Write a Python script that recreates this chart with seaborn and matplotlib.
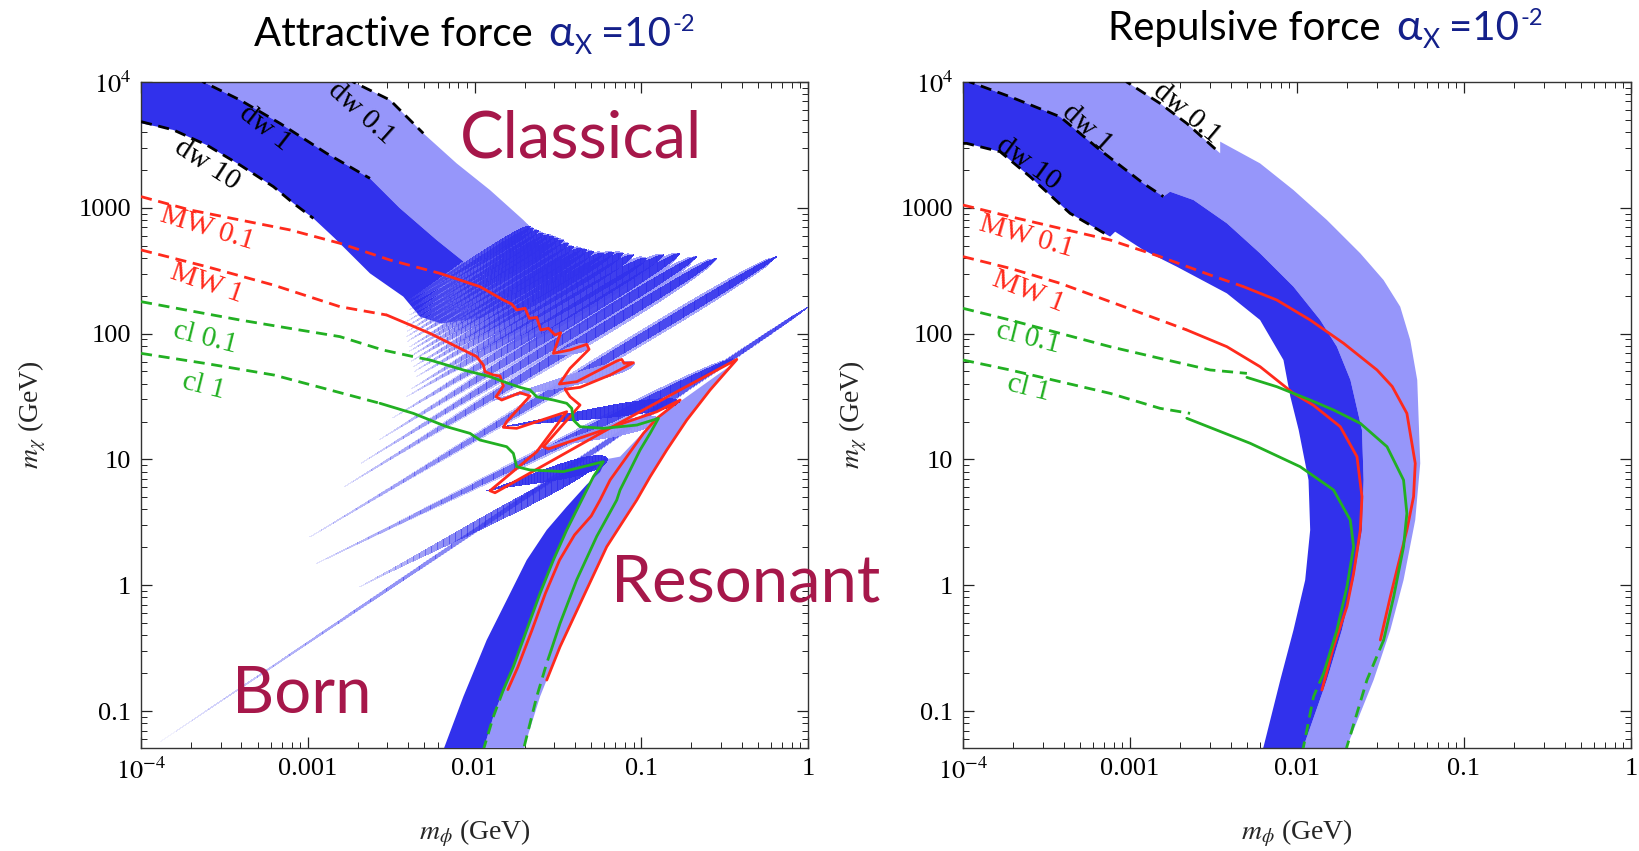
import numpy as np
import pandas as pd
import matplotlib
matplotlib.use("Agg")
import matplotlib.pyplot as plt
import matplotlib.colors as mcolors
from matplotlib.collections import PolyCollection
from matplotlib.ticker import NullFormatter
import seaborn as sns

sns.set_theme(style="ticks")
plt.rcParams['font.family'] = ['Liberation Serif', 'DejaVu Serif']
plt.rcParams['mathtext.fontset'] = 'stix'

W, H = 1639, 851
DARK = '#3131ec'
LIGHT = '#9696fa'
RED = '#ff2a1c'
GREEN = '#22b022'
NAVY = '#14208a'
CRIMSON = '#a6174a'

# all points are (log10 m_phi, log10 m_X) in GeV

# ---------------- attractive force ----------------
attr_dark_upper = [(-4.05, 4.05), (-3.66, 4.05), (-3.626, 4.0), (-3.406, 3.857), (-3.166, 3.671),
                   (-2.887, 3.433), (-2.627, 3.234), (-2.45, 3.00), (-2.227, 2.744), (-2.027, 2.532),
                   (-1.80, 2.27)]
attr_dark_lower = [(-4.05, 3.685), (-3.806, 3.619), (-3.606, 3.499), (-3.406, 3.340), (-3.206, 3.168),
                   (-3.086, 3.036), (-2.966, 2.916), (-2.84, 2.76), (-2.627, 2.479), (-2.427, 2.294),
                   (-2.327, 2.135), (-2.20, 2.08), (-1.95, 2.13)]
attr_light_upper = [(-3.66, 4.05), (-2.76, 4.05), (-2.727, 4.0), (-2.507, 3.857), (-2.307, 3.592),
                    (-2.107, 3.353), (-1.907, 3.141), (-1.707, 2.903), (-1.667, 2.850), (-1.50, 2.70),
                    (-1.45, 2.60), (-1.62, 2.45), (-1.80, 2.27)]

# resonance stripes: tail (lx, ly), tip (lx, ly), half width in decades
attr_stripes = [(-3.886, -1.246, 0.0, 2.21, 0.016),
                (-2.95, 0.17, -0.45, 1.80, 0.03),
                (-2.987, 0.383, -0.188, 2.612, 0.035),
                (-2.68, 0.97, -0.667, 2.612, 0.04),
                (-2.783, 0.781, -0.548, 2.598, 0.04),
                (-2.573, 1.154, -0.768, 2.638, 0.045),
                (-2.49, 1.33, -0.867, 2.625, 0.045),
                (-2.407, 1.499, -0.968, 2.598, 0.05),
                (-2.38, 1.56, -1.047, 2.625, 0.045),
                (-2.347, 1.658, -1.108, 2.638, 0.05),
                (-2.36, 1.70, -1.167, 2.643, 0.045),
                (-2.367, 1.737, -1.227, 2.638, 0.045),
                (-2.38, 1.78, -1.287, 2.651, 0.045),
                (-2.387, 1.817, -1.327, 2.665, 0.045),
                (-2.39, 1.86, -1.357, 2.678, 0.04),
                (-2.387, 1.896, -1.407, 2.691, 0.04),
                (-2.40, 1.94, -1.437, 2.717, 0.04),
                (-2.407, 1.976, -1.467, 2.744, 0.04),
                (-2.40, 2.02, -1.497, 2.757, 0.04),
                (-2.407, 2.055, -1.527, 2.771, 0.04),
                (-2.40, 2.10, -1.557, 2.784, 0.035),
                (-2.387, 2.148, -1.587, 2.797, 0.035),
                (-2.39, 2.19, -1.617, 2.818, 0.035),
                (-2.387, 2.241, -1.647, 2.837, 0.035),
                (-2.39, 2.27, -1.667, 2.850, 0.035)]
attr_wedges_dark = [(-2.687, -0.012, -1.25, 0.98, 0.055),
                    (-1.93, 0.75, -1.20, 1.00, 0.065),
                    (-1.83, 1.26, -0.77, 1.46, 0.05)]
attr_wedges_light = [(-1.60, 1.09, -0.90, 1.32, 0.055),
                     (-1.89, 1.47, -1.04, 1.76, 0.05),
                     (-1.54, 1.83, -1.32, 1.90, 0.035)]

attr_res_left = [(-2.20, -1.40), (-2.187, -1.310), (-2.067, -0.886), (-1.927, -0.436), (-1.80, -0.10),
                 (-1.687, 0.200), (-1.567, 0.439), (-1.447, 0.624), (-1.327, 0.800), (-1.247, 0.900),
                 (-1.207, 1.009)]
attr_res_inner = [(-1.237, 0.995), (-1.287, 0.863), (-1.367, 0.651), (-1.447, 0.439), (-1.527, 0.200),
                  (-1.607, -0.065), (-1.687, -0.356), (-1.767, -0.648), (-1.827, -0.833), (-1.887, -1.045),
                  (-1.947, -1.310), (-1.96, -1.40)]
attr_res_top = [(-1.237, 0.995), (-1.127, 1.022), (-0.908, 1.326), (-0.768, 1.459), (-0.418, 1.790)]
attr_res_outer = [(-0.418, 1.790), (-0.587, 1.552), (-0.727, 1.313), (-0.847, 1.075), (-0.947, 0.862),
                  (-1.047, 0.651), (-1.207, 0.306), (-1.347, -0.091), (-1.487, -0.489), (-1.607, -0.886),
                  (-1.707, -1.310), (-1.72, -1.40)]

attr_dw01 = [(-2.76, 4.05), (-2.727, 4.0), (-2.507, 3.857), (-2.307, 3.592)]
attr_dw1 = [(-3.66, 4.05), (-3.626, 4.0), (-3.406, 3.857), (-3.166, 3.671), (-2.887, 3.433), (-2.627, 3.234)]
attr_dw10 = [(-4.0, 3.685), (-3.806, 3.619), (-3.606, 3.499), (-3.406, 3.340), (-3.206, 3.168),
             (-3.086, 3.036), (-2.966, 2.916)]

attr_mw01_dash = [(-4.0, 3.089), (-3.706, 2.983), (-3.406, 2.903), (-3.106, 2.824), (-2.807, 2.718),
                  (-2.507, 2.585), (-2.207, 2.479)]
attr_mw01_solid = [(-2.207, 2.479), (-1.967, 2.373), (-1.827, 2.267), (-1.777, 2.235), (-1.747, 2.188),
                   (-1.697, 2.201), (-1.671, 2.121), (-1.627, 2.129), (-1.603, 2.029), (-1.557, 2.042),
                   (-1.517, 1.989), (-1.483, 2.007), (-1.527, 1.843), (-1.427, 1.870), (-1.327, 1.915),
                   (-1.313, 1.875), (-1.427, 1.724), (-1.491, 1.599), (-1.387, 1.618), (-1.147, 1.782),
                   (-1.117, 1.795), (-1.103, 1.764), (-1.047, 1.769), (-1.187, 1.671), (-1.367, 1.573),
                   (-1.457, 1.557), (-1.427, 1.498), (-1.367, 1.432), (-1.427, 1.340), (-1.587, 1.101),
                   (-1.557, 1.083), (-1.227, 1.234), (-0.907, 1.379), (-0.767, 1.472), (-0.907, 1.326),
                   (-0.987, 1.207), (-1.087, 1.021), (-1.187, 0.836), (-1.247, 0.677), (-1.30, 0.55),
                   (-1.40, 0.40), (-1.49, 0.20), (-1.575, -0.065), (-1.655, -0.356), (-1.74, -0.65),
                   (-1.80, -0.83)]
attr_mw1_dash = [(-4.0, 2.665), (-3.606, 2.532), (-3.206, 2.386), (-2.807, 2.214), (-2.527, 2.148)]
attr_mw1_solid = [(-2.527, 2.148), (-2.267, 2.002), (-2.107, 1.896), (-2.027, 1.843), (-1.987, 1.817),
                  (-1.947, 1.750), (-1.937, 1.697), (-1.887, 1.671), (-1.847, 1.663), (-1.827, 1.583),
                  (-1.871, 1.499), (-1.837, 1.472), (-1.727, 1.530), (-1.667, 1.504), (-1.707, 1.446),
                  (-1.807, 1.300), (-1.827, 1.255), (-1.747, 1.247), (-1.447, 1.379), (-1.627, 1.061),
                  (-1.907, 0.751), (-1.877, 0.735), (-1.227, 1.220), (-0.787, 1.538), (-0.427, 1.795),
                  (-0.587, 1.552), (-0.727, 1.313), (-0.847, 1.075), (-0.947, 0.862), (-1.027, 0.677),
                  (-1.207, 0.306), (-1.347, -0.091), (-1.487, -0.489), (-1.567, -0.754)]
attr_cl01_dash = [(-4.0, 2.254), (-3.7, 2.18), (-3.406, 2.108), (-3.1, 2.04), (-2.807, 1.976),
                  (-2.55, 1.87), (-2.367, 1.817), (-2.267, 1.790)]
attr_cl01_solid = [(-2.267, 1.790), (-2.067, 1.711), (-1.907, 1.658), (-1.827, 1.618), (-1.727, 1.573),
                   (-1.667, 1.552), (-1.627, 1.498), (-1.527, 1.472), (-1.447, 1.446), (-1.417, 1.406),
                   (-1.407, 1.313), (-1.367, 1.260), (-1.227, 1.247), (-1.027, 1.273), (-0.897, 1.326),
                   (-0.947, 1.207), (-1.007, 1.075), (-1.067, 0.915), (-1.127, 0.757), (-1.147, 0.677),
                   (-1.267, 0.388), (-1.387, 0.043), (-1.487, -0.303), (-1.54, -0.515)]
attr_cl01_tail = [(-1.54, -0.515), (-1.567, -0.621), (-1.627, -0.886), (-1.707, -1.31), (-1.72, -1.40)]
attr_cl1_dash = [(-4.0, 1.843), (-3.6, 1.76), (-3.2, 1.67), (-2.867, 1.552), (-2.567, 1.446)]
attr_cl1_solid = [(-2.567, 1.446), (-2.367, 1.366), (-2.167, 1.260), (-2.027, 1.207), (-1.967, 1.154),
                  (-1.807, 1.101), (-1.767, 1.048), (-1.747, 0.942), (-1.667, 0.916), (-1.467, 0.903),
                  (-1.227, 0.982), (-1.287, 0.863), (-1.367, 0.651), (-1.447, 0.439), (-1.527, 0.200),
                  (-1.607, -0.065), (-1.687, -0.356), (-1.767, -0.648), (-1.827, -0.833)]
attr_cl1_tail = [(-1.827, -0.833), (-1.887, -1.045), (-1.947, -1.310), (-1.96, -1.40)]

# ---------------- repulsive force ----------------
rep_dark_upper = [(-4.05, 4.05), (-3.96, 4.05), (-3.958, 4.0), (-3.718, 3.883), (-3.419, 3.724),
                  (-3.179, 3.459), (-2.920, 3.194), (-2.800, 3.089), (-2.760, 3.128), (-2.620, 3.062),
                  (-2.420, 2.877), (-2.221, 2.638), (-2.021, 2.373), (-1.861, 2.108), (-1.761, 1.896),
                  (-1.68, 1.631), (-1.611, 1.234), (-1.601, 0.836), (-1.611, 0.439), (-1.661, 0.041),
                  (-1.731, -0.356), (-1.821, -0.753), (-1.961, -1.283), (-1.99, -1.40)]
rep_dark_lower = [(-4.05, 3.512), (-3.978, 3.512), (-3.778, 3.446), (-3.599, 3.248), (-3.359, 2.956),
                  (-3.119, 2.771), (-3.089, 2.810), (-2.920, 2.665), (-2.720, 2.532), (-2.420, 2.320),
                  (-2.221, 2.108), (-2.081, 1.790), (-2.04, 1.50), (-1.99, 1.234), (-1.931, 0.836),
                  (-1.921, 0.439), (-1.951, 0.041), (-2.021, -0.356), (-2.100, -0.753), (-2.200, -1.283),
                  (-2.23, -1.40)]
rep_light_outer = [(-3.96, 4.05), (-3.03, 4.05), (-3.019, 4.0), (-2.820, 3.830), (-2.660, 3.671),
                   (-2.460, 3.433), (-2.460, 3.526), (-2.221, 3.353), (-2.021, 3.141), (-1.821, 2.903),
                   (-1.621, 2.638), (-1.482, 2.426), (-1.382, 2.214), (-1.322, 1.949), (-1.28, 1.631),
                   (-1.262, 0.969), (-1.292, 0.518), (-1.362, 0.041), (-1.441, -0.356), (-1.541, -0.753),
                   (-1.701, -1.283), (-1.73, -1.40)]

rep_dw01 = [(-3.03, 4.05), (-3.019, 4.0), (-2.820, 3.830), (-2.660, 3.671), (-2.460, 3.433)]
rep_dw1 = [(-3.96, 4.05), (-3.958, 4.0), (-3.718, 3.883), (-3.419, 3.724), (-3.179, 3.459),
           (-2.920, 3.194), (-2.800, 3.089)]
rep_dw10 = [(-4.0, 3.512), (-3.978, 3.512), (-3.778, 3.446), (-3.599, 3.248), (-3.359, 2.956),
            (-3.119, 2.771)]

rep_mw01_dash = [(-4.0, 3.022), (-3.718, 2.930), (-3.419, 2.837), (-3.119, 2.744), (-2.820, 2.612),
                 (-2.520, 2.466), (-2.320, 2.373)]
rep_mw01_solid = [(-2.320, 2.373), (-2.121, 2.267), (-1.921, 2.108), (-1.721, 1.923), (-1.521, 1.711),
                  (-1.43, 1.58), (-1.342, 1.366), (-1.292, 0.969), (-1.302, 0.704), (-1.342, 0.439),
                  (-1.392, 0.174), (-1.441, -0.091), (-1.501, -0.436)]
rep_mw1_dash = [(-4.0, 2.612), (-3.718, 2.519), (-3.419, 2.400), (-3.119, 2.254), (-2.820, 2.108),
                (-2.660, 2.029)]
rep_mw1_solid = [(-2.660, 2.029), (-2.420, 1.896), (-2.221, 1.737), (-2.021, 1.525), (-1.901, 1.43),
                 (-1.741, 1.260), (-1.641, 1.022), (-1.611, 0.704), (-1.621, 0.439), (-1.661, 0.094),
                 (-1.701, -0.170), (-1.781, -0.488), (-1.851, -0.833)]
rep_cl01_dash = [(-4.0, 2.201), (-3.718, 2.108), (-3.419, 2.002), (-3.119, 1.896), (-2.820, 1.803),
                 (-2.520, 1.711), (-2.300, 1.684)]
rep_cl01_solid = [(-2.300, 1.652), (-2.121, 1.578), (-1.921, 1.472), (-1.781, 1.393), (-1.621, 1.287),
                  (-1.461, 1.101), (-1.362, 0.836), (-1.342, 0.571), (-1.362, 0.306), (-1.421, -0.091),
                  (-1.481, -0.436)]
rep_cl01_tail = [(-1.481, -0.436), (-1.581, -0.753), (-1.701, -1.283), (-1.72, -1.40)]
rep_cl1_dash = [(-4.0, 1.790), (-3.718, 1.711), (-3.419, 1.618), (-3.119, 1.525), (-2.820, 1.406),
                (-2.640, 1.366)]
rep_cl1_solid = [(-2.660, 1.327), (-2.280, 1.128), (-1.981, 0.942), (-1.781, 0.757), (-1.681, 0.518),
                 (-1.661, 0.306), (-1.701, -0.012), (-1.761, -0.356), (-1.841, -0.701)]
rep_cl1_tail = [(-1.841, -0.701), (-1.901, -0.886), (-1.961, -1.283), (-1.98, -1.40)]

x_ticks = [1e-4, 1e-3, 1e-2, 1e-1, 1]
x_tick_labels = [r'$10^{-4}$', '0.001', '0.01', '0.1', '1']
y_ticks = [0.1, 1, 10, 100, 1000, 1e4]
y_tick_labels = ['0.1', '1', '10', '100', '1000', r'$10^{4}$']


def gev(pts):
    a = np.array(pts, dtype=float)
    return 10 ** a[:, 0], 10 ** a[:, 1]


def fill(ax, pts, color, z):
    x, y = gev(pts)
    ax.fill(x, y, color=color, lw=0, zorder=z)


def line(ax, pts, color, dashed=False, lw=2.0, z=5):
    x, y = gev(pts)
    df = pd.DataFrame({'x': x, 'y': y})
    ls = (0, (4, 2.4)) if dashed else '-'
    sns.lineplot(data=df, x='x', y='y', sort=False, estimator=None, ax=ax,
                 color=color, linewidth=lw, linestyle=ls, zorder=z)


def lens(ax, s, color, a0, a1, scale=1.0, n=40, z=3):
    # one stripe: thin tail widening towards the tip, drawn in slices
    x0, y0, x1, y1, hw = s
    t = np.linspace(0, 1, n + 1)
    prof = t ** 1.5 * np.sqrt(1 - t)
    prof = scale * hw * prof / prof.max()
    cx = x0 + (x1 - x0) * t
    cy = y0 + (y1 - y0) * t
    rgb = mcolors.to_rgb(color)
    polys, cols = [], []
    for k in range(n):
        quad = [(cx[k], cy[k] + prof[k]), (cx[k + 1], cy[k + 1] + prof[k + 1]),
                (cx[k + 1], cy[k + 1] - prof[k + 1]), (cx[k], cy[k] - prof[k])]
        polys.append([(10 ** u, 10 ** v) for u, v in quad])
        cols.append((*rgb, a0 + (a1 - a0) * ((k + 0.5) / n) ** 0.7))
    ax.add_collection(PolyCollection(polys, facecolors=cols, edgecolors='none',
                                     antialiased=False, zorder=z))


def style(ax):
    ax.set_xscale('log')
    ax.set_yscale('log')
    ax.set_xticks(x_ticks, x_tick_labels)
    ax.set_yticks(y_ticks, y_tick_labels)
    ax.xaxis.set_minor_formatter(NullFormatter())
    ax.yaxis.set_minor_formatter(NullFormatter())
    ax.set_xlim(1e-4, 1)
    ax.set_ylim(10 ** -1.294, 1e4)
    ax.tick_params(which='both', direction='in', top=True, right=True, colors='#222222',
                   labelcolor='black', labelsize=19, pad=7)
    ax.tick_params(which='major', length=8, width=0.9)
    ax.tick_params(which='minor', length=4, width=0.7)
    for sp in ax.spines.values():
        sp.set_linewidth(1.0)
        sp.set_color('#333333')
    ax.set_xlabel(r'$m_\phi$ (GeV)', fontsize=20)
    ax.set_ylabel(r'$m_\chi$ (GeV)', fontsize=20)
    ax.xaxis.set_label_coords(0.5, -0.105)
    ax.yaxis.set_label_coords(-0.14, 0.5)
    ax.grid(False)


def tag(ax, lx, ly, s, color, rot):
    ax.text(10 ** lx, 10 ** ly, s, color=color, rotation=rot, fontsize=21,
            ha='center', va='center', rotation_mode='anchor', zorder=7)


fig = plt.figure(figsize=(W / 100, H / 100), dpi=100)
ax1 = fig.add_axes([141 / W, 1 - 748 / H, 667 / W, 666 / H])
ax2 = fig.add_axes([963 / W, 1 - 748 / H, 668 / W, 666 / H])
for ax in (ax1, ax2):
    ax.set_xscale('log')
    ax.set_yscale('log')

# attractive panel
fill(ax1, attr_light_upper + attr_dark_upper[::-1], LIGHT, 1)
fill(ax1, attr_dark_upper + attr_dark_lower[::-1], DARK, 2)
for s in attr_stripes[1:]:
    lens(ax1, s, LIGHT, 0.03, 0.95, scale=1.7, z=2.5)
lens(ax1, attr_stripes[0], LIGHT, 0.0, 0.8, scale=1.5, z=2.5)
for s in attr_stripes[1:]:
    lens(ax1, s, DARK, 0.06, 0.95, z=3)
lens(ax1, attr_stripes[0], DARK, 0.0, 0.8, z=3)
fill(ax1, attr_res_inner[::-1] + attr_res_top[1:] + attr_res_outer[1:], LIGHT, 3.5)
fill(ax1, attr_res_left + attr_res_inner, DARK, 3.6)
lens(ax1, attr_wedges_dark[0], DARK, 0.1, 1.0, z=3.7)
for s in attr_wedges_dark[1:]:
    lens(ax1, s, DARK, 0.9, 0.95, z=3.7)
for s in attr_wedges_light:
    lens(ax1, s, LIGHT, 0.9, 0.95, z=3.7)

for pts in (attr_dw01, attr_dw1, attr_dw10):
    line(ax1, pts, 'black', dashed=True, lw=2.0)
line(ax1, attr_mw01_dash, RED, dashed=True)
line(ax1, attr_mw01_solid, RED)
line(ax1, attr_mw1_dash, RED, dashed=True)
line(ax1, attr_mw1_solid, RED)
line(ax1, attr_cl01_dash, GREEN, dashed=True, z=6)
line(ax1, attr_cl01_solid, GREEN, z=6)
line(ax1, attr_cl01_tail, GREEN, dashed=True, z=6)
line(ax1, attr_cl1_dash, GREEN, dashed=True, z=6)
line(ax1, attr_cl1_solid, GREEN, z=6)
line(ax1, attr_cl1_tail, GREEN, dashed=True, z=6)

tag(ax1, -2.682, 3.751, 'dw 0.1', 'black', -42)
tag(ax1, -3.256, 3.632, 'dw 1', 'black', -38)
tag(ax1, -3.606, 3.340, 'dw 10', 'black', -33)
tag(ax1, -3.606, 2.837, 'MW 0.1', RED, -17)
tag(ax1, -3.606, 2.400, 'MW 1', RED, -19)
tag(ax1, -3.616, 1.963, 'cl 0.1', GREEN, -14)
tag(ax1, -3.622, 1.583, 'cl 1', GREEN, -14)

# repulsive panel
fill(ax2, rep_light_outer + rep_dark_upper[::-1], LIGHT, 1)
fill(ax2, rep_dark_upper + rep_dark_lower[::-1], DARK, 2)
for pts in (rep_dw01, rep_dw1, rep_dw10):
    line(ax2, pts, 'black', dashed=True, lw=2.0)
line(ax2, rep_mw01_dash, RED, dashed=True)
line(ax2, rep_mw01_solid, RED)
line(ax2, rep_mw1_dash, RED, dashed=True)
line(ax2, rep_mw1_solid, RED)
line(ax2, rep_cl01_dash, GREEN, dashed=True, z=6)
line(ax2, rep_cl01_solid, GREEN, z=6)
line(ax2, rep_cl01_tail, GREEN, dashed=True, z=6)
line(ax2, rep_cl1_dash, GREEN, dashed=True, z=6)
line(ax2, rep_cl1_solid, GREEN, z=6)
line(ax2, rep_cl1_tail, GREEN, dashed=True, z=6)

tag(ax2, -2.660, 3.751, 'dw 0.1', 'black', -40)
tag(ax2, -3.259, 3.632, 'dw 1', 'black', -42)
tag(ax2, -3.609, 3.354, 'dw 10', 'black', -36)
tag(ax2, -3.618, 2.770, 'MW 0.1', RED, -16)
tag(ax2, -3.609, 2.333, 'MW 1', RED, -21)
tag(ax2, -3.609, 1.963, 'cl 0.1', GREEN, -14)
tag(ax2, -3.609, 1.566, 'cl 1', GREEN, -14)

for ax in (ax1, ax2):
    style(ax)

sans = ['Lato', 'DejaVu Sans']


def chain(x, base, pieces):
    r = fig.canvas.get_renderer()
    for s, color, size, dy, gap in pieces:
        t = fig.text(x / W, 1 - (base + dy) / H, s, color=color, fontsize=size,
                     family=sans, ha='left', va='baseline')
        x += t.get_window_extent(r).width + gap


chain(254, 46, [("Attractive force", 'black', 29, 0, 16), ("\u03b1", NAVY, 31, 0, 1),
                ("X", NAVY, 19, 8, 9), ("=10", NAVY, 29, 0, 1), ("-2", NAVY, 17, -15, 0)])
chain(1108, 40, [("Repulsive force", 'black', 29, 0, 16), ("\u03b1", NAVY, 31, 0, 1),
                 ("X", NAVY, 19, 8, 9), ("=10", NAVY, 29, 0, 1), ("-2", NAVY, 17, -15, 0)])

for s, x, base in (("Classical", 460, 157), ("Resonant", 611, 601), ("Born", 232, 713)):
    fig.text(x / W, 1 - base / H, s, color=CRIMSON, fontsize=47, family=sans,
             ha='left', va='baseline', zorder=10)

fig.savefig('out.png', dpi=100)
